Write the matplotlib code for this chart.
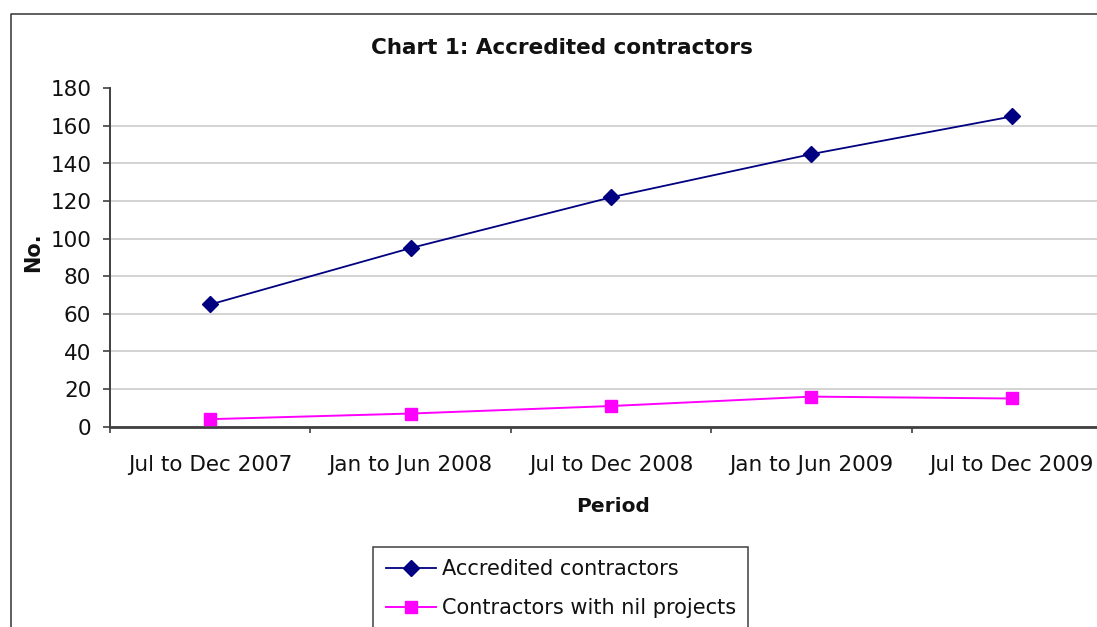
"""Chart 1: Accredited contractors, line chart."""
import matplotlib.pyplot as plt
from matplotlib.lines import Line2D

periods = ['Jul to Dec 2007', 'Jan to Jun 2008', 'Jul to Dec 2008',
           'Jan to Jun 2009', 'Jul to Dec 2009']
accredited = [65, 95, 122, 145, 165]
nil_projects = [4, 7, 11, 16, 15]
yticks = list(range(0, 181, 20))

W, H = 1097, 627
fig = plt.figure(figsize=(W / 100, H / 100), dpi=100)
plt.rcParams['font.family'] = ['DejaVu Sans']

# axes extends past the right edge of the picture, like the cropped original
left, right, top, bottom = 110, 1112, 88.3, 426.7
ax = fig.add_axes([left / W, 1 - bottom / H, (right - left) / W, (bottom - top) / H])

x = list(range(len(periods)))
ax.plot(x, accredited, color='#000080', lw=1.3, marker='D', ms=8.2,
        label='Accredited contractors', clip_on=False, zorder=3)
ax.plot(x, nil_projects, color='#FF00FF', lw=1.4, marker='s', ms=8,
        label='Contractors with nil projects', clip_on=False, zorder=3)

ax.set_xlim(-0.5, len(periods) - 0.5)
ax.set_ylim(0, 180)
ax.set_yticks(yticks)
ax.tick_params(axis='y', direction='out', length=5, width=1.2, color='#404040',
               labelsize=15.5, labelcolor='#111111', pad=8.5)

# category labels at centres, boundary tick marks between them
ax.set_xticks(x)
ax.set_xticklabels(periods)
ax.tick_params(axis='x', which='major', length=0, labelsize=15.5,
               labelcolor='#111111', pad=20.5)
ax.set_xticks([i - 0.5 for i in range(len(periods) + 1)], minor=True)
ax.tick_params(axis='x', which='minor', direction='out', length=4.5,
               width=1.2, color='#404040')

ax.grid(axis='y', color='#c8c8c8', lw=1.1)
ax.yaxis.get_gridlines()[-1].set_visible(False)
ax.set_axisbelow(True)
for s in ('top', 'right'):
    ax.spines[s].set_visible(False)
ax.spines['left'].set_color('#404040')
ax.spines['left'].set_linewidth(1.4)
ax.spines['bottom'].set_color('#404040')
ax.spines['bottom'].set_linewidth(2)

fig.text(562 / W, 1 - 48 / H, 'Chart 1: Accredited contractors', ha='center',
         va='center', fontsize=15.5, fontweight='bold', color='#111111')
fig.text(613 / W, 1 - 507 / H, 'Period', ha='center', va='center',
         fontsize=14.5, fontweight='bold', color='#111111')
fig.text(33 / W, 1 - 252 / H, 'No.', ha='center', va='center', rotation=90,
         fontsize=15, fontweight='bold', color='#111111')

leg = fig.legend(loc='upper left', bbox_to_anchor=(373 / W, 1 - 546.7 / H),
                 borderaxespad=0, fontsize=15, frameon=True, fancybox=False,
                 edgecolor='#111111', borderpad=0.6, labelspacing=0.9,
                 handlelength=2.4, handletextpad=0.3)
leg.get_frame().set_linewidth(1.1)
for t in leg.get_texts():
    t.set_color('#111111')

# outer chart-area border (cropped on right and bottom)
fig.add_artist(Line2D([11 / W, 11 / W, 1.02], [-0.02, 1 - 14 / H, 1 - 14 / H],
                      transform=fig.transFigure, color='#333333', lw=1.1))

fig.savefig('out.png', dpi=100)
